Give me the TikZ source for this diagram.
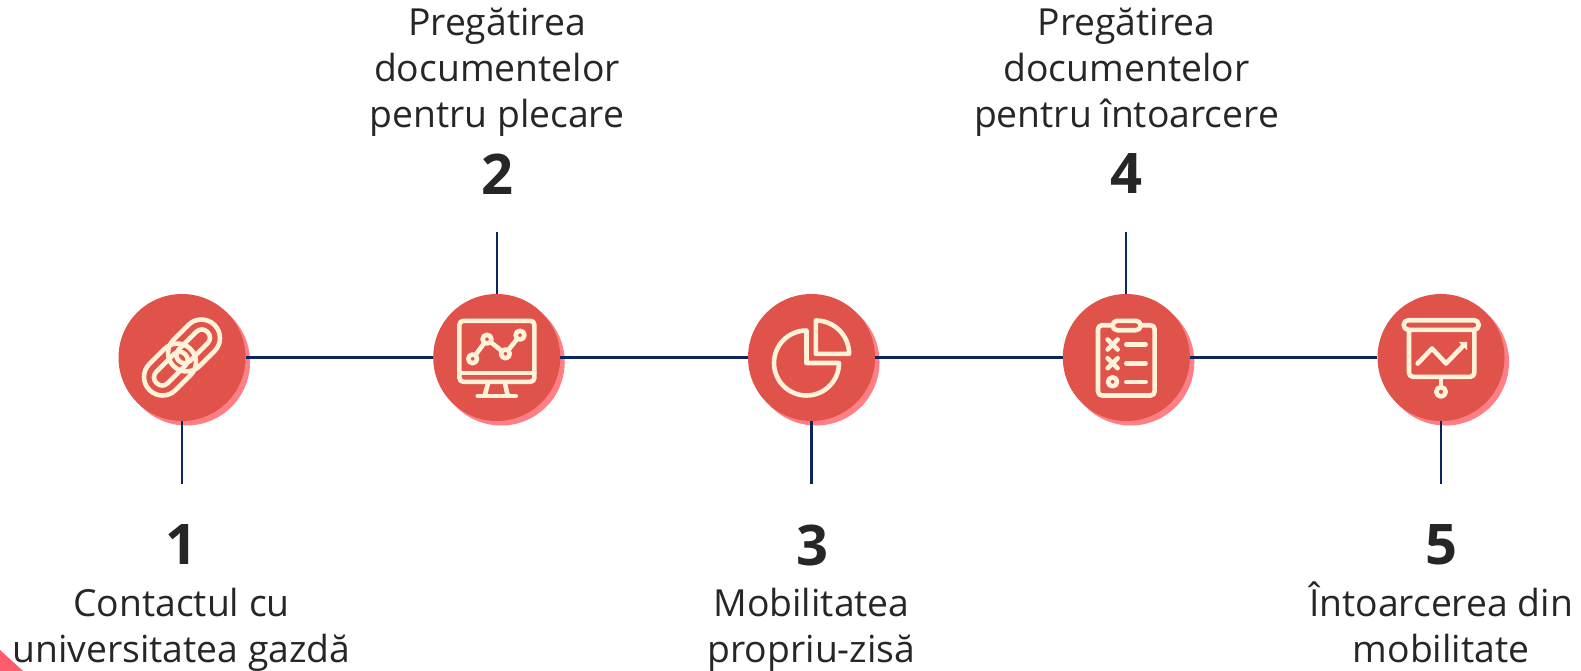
\documentclass[tikz,border=0pt]{standalone}
\usepackage{fontspec}
\setmainfont{Open Sans}
\usetikzlibrary{positioning}
\definecolor{disc}{HTML}{E0534A}
\definecolor{discback}{HTML}{FF7F84}
\definecolor{cream}{HTML}{FFF2D8}
\definecolor{navy}{HTML}{0B2560}
\definecolor{ink}{HTML}{262626}
\definecolor{corner}{HTML}{FF5C6C}

\begin{document}
\begin{tikzpicture}[
  x=1pt, y=-1pt,
  back/.style={circle, fill=discback, minimum size=127pt, inner sep=0pt},
  disk/.style={circle, fill=disc, minimum size=127pt, inner sep=0pt},
  link/.style={draw=navy, line width=2.2pt},
  icon/.style={draw=cream, line width=4.6pt, line cap=round, line join=round},
  num/.style={font=\fontsize{56}{60}\bfseries\selectfont, text=ink, inner sep=0pt},
  txt/.style={font=\fontsize{37.3}{46}\selectfont, text=ink, align=center, inner sep=0pt, anchor=base}
]

\useasboundingbox (0,0) rectangle (1581,671);

\fill[corner] (0,650) -- (23,671) -- (0,671) -- cycle;

\node[back] (s1) at (186.5,362) {};
\node[back] (s2) at (501.2,362) {};
\node[back] (s3) at (816,362) {};
\node[back] (s4) at (1130.8,362) {};
\node[back] (s5) at (1445.5,362) {};

\node[disk] (c1) at (182,357.5) {};
\node[disk] (c2) at (496.7,357.5) {};
\node[disk] (c3) at (811.5,357.5) {};
\node[disk] (c4) at (1126.3,357.5) {};
\node[disk] (c5) at (1441,357.5) {};

\coordinate (t1) at (182,484);
\coordinate (t2) at (496.7,232);
\coordinate (t3) at (811.5,484);
\coordinate (t4) at (1126.3,232);
\coordinate (t5) at (1441,484);

\draw[link] (c1) -- (c2);
\draw[link] (c2) -- (c3);
\draw[link] (c3) -- (c4);
\draw[link] (c4) -- (c5);
\draw[link] (c1) -- (t1);
\draw[link] (c2) -- (t2);
\draw[link] (c3) -- (t3);
\draw[link] (c4) -- (t4);
\draw[link] (c5) -- (t5);

\node[num] (num1) at (181.5,545) {1};
\node[num] (num2) at (497,174) {2};
\node[num] (num3) at (812,545) {3};
\node[num] (num4) at (1126.5,174) {4};
\node[num] (num5) at (1441.5,545) {5};

\node[txt] (lab1) at (181.5,662) {Contactul cu\\universitatea gazdă};
\node[txt] (lab2) at (497,127.5) {Pregătirea\\documentelor\\pentru plecare};
\node[txt] (lab3) at (811.5,662) {Mobilitatea\\propriu-zisă};
\node[txt] (lab4) at (1126.5,127.5) {Pregătirea\\documentelor\\pentru întoarcere};
\node[txt] (lab5) at (1441,662) {Întoarcerea din\\mobilitate};

% chain
\begin{scope}[shift={(c1)}, rotate=45, icon]
  \draw[rounded corners=18.4pt] (-12,-18.5) rectangle (46,18.5);
  \draw[rounded corners=18.4pt] (-46,-18.5) rectangle (12,18.5);
  \draw[rounded corners=7.5pt] (-4.5,-8) rectangle (36,8);
  \draw[rounded corners=7.5pt] (-36,-8) rectangle (4.5,8);
\end{scope}

% monitor
\begin{scope}[shift={(c2)}, icon]
  \draw[rounded corners=4pt] (-37.3,-36.7) rectangle (37.7,24.3);
  \draw (-37.3,15.3) -- (37.7,15.3);
  \draw (-9,27) -- (-12,38);
  \draw (8.5,27) -- (11,38);
  \draw (-19,38.3) -- (19,38.3);
  \draw (-24,1.3) -- (-9.7,-18.3) -- (8.7,-3.7) -- (23.3,-22.3);
  \foreach \p in {(-24,1.3),(-9.7,-18.3),(8.7,-3.7),(23.3,-22.3)}
    \draw[fill=disc] \p circle (4.4);
\end{scope}

% pie
\begin{scope}[shift={(c3)}, icon]
  \draw (27.5,5.5) arc (0:270:32.5) -- (-5,5.5) -- cycle;
  \draw (4.3,-37) arc (270:360:33.3) -- (4.3,-3.7) -- cycle;
\end{scope}

% clipboard
\begin{scope}[shift={(c4)}, icon]
  \draw[rounded corners=4pt] (-28.3,-32.3) rectangle (28.3,38);
  \draw[rounded corners=4.6pt, fill=disc] (-13.7,-36.7) rectangle (14.3,-27.3);
  \draw (-18.7,-18) -- (-8.7,-8) (-18.7,-8) -- (-8.7,-18);
  \draw (-18.7,0.7) -- (-8.7,10.7) (-18.7,10.7) -- (-8.7,0.7);
  \draw (-13.7,24.3) circle (4.5);
  \draw (0,-13) -- (19.3,-13);
  \draw (0,5.7) -- (19.3,5.7);
  \draw (0,24.3) -- (19.3,24.3);
\end{scope}

% board
\begin{scope}[shift={(c5)}, icon]
  \draw[rounded corners=4.6pt] (-37.3,-37.3) rectangle (37.7,-27.7);
  \draw[rounded corners=4pt] (-32,-27.7) -- (-32,19.3) -- (33.3,19.3) -- (33.3,-27.7);
  \draw (0,21) -- (0,29.5);
  \draw (0,34.3) circle (4.7);
  \draw (-23.3,6) -- (-9,-9) -- (5,6) -- (22.7,-12.3);
  \fill[cream] (17.7,-15.7) -- (26,-15.7) -- (26,-7.3) -- cycle;
\end{scope}

\end{tikzpicture}
\end{document}
